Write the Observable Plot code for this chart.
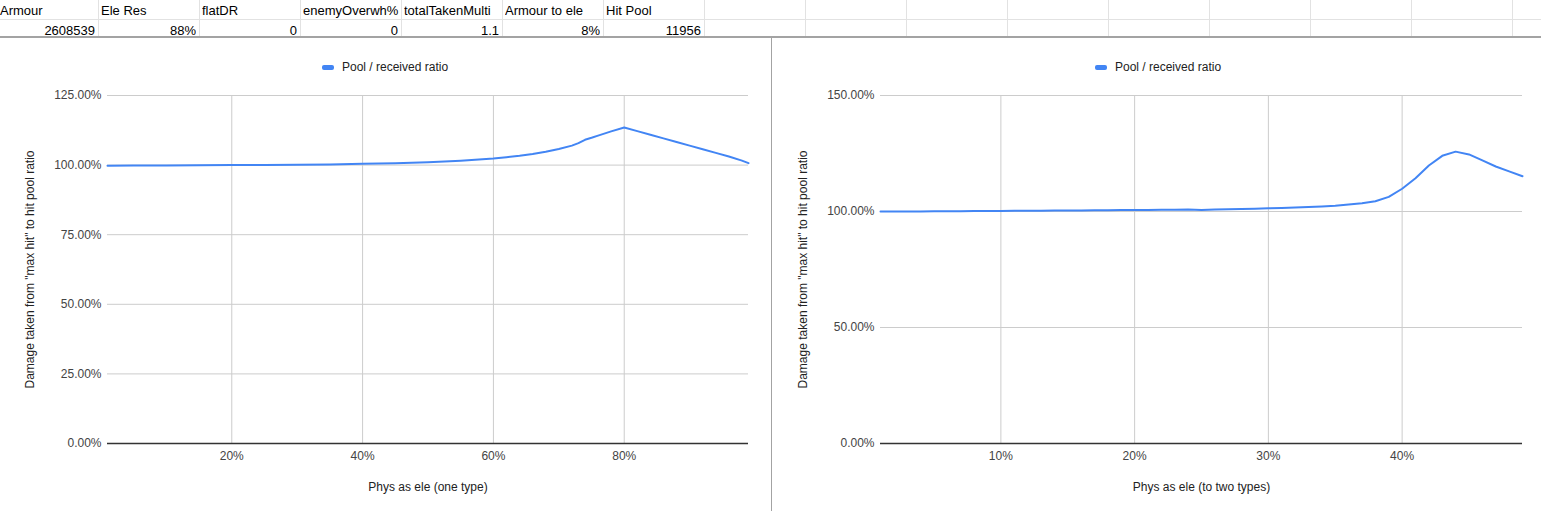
<!DOCTYPE html>
<html>
<head>
<meta charset="utf-8">
<script src="https://cdn.jsdelivr.net/npm/d3@7"></script>
<script src="https://cdn.jsdelivr.net/npm/@observablehq/plot@0.6"></script>
<style>
  html, body { margin: 0; padding: 0; background: #fff; }
  body { width: 1541px; height: 511px; overflow: hidden; position: relative; font-family: "Liberation Sans", Arial, sans-serif; }
  .cell { position: absolute; font-size: 13px; color: #000; white-space: nowrap; overflow: hidden; box-sizing: border-box; }
  .vline { position: absolute; width: 1px; background: #e2e2e2; }
  .hline { position: absolute; height: 1px; background: #e2e2e2; }
  .legend { position: absolute; font-size: 12px; color: #222; display: flex; align-items: center; white-space: nowrap; }
  .legend .sw { width: 12px; height: 5px; border-radius: 2px; background: #4285F4; margin-right: 8px; }
  .chart { position: absolute; top: 37px; }
</style>
</head>
<body>
<script>
// ---- Sheet table ----
const headers = ["Armour", "Ele Res", "flatDR", "enemyOverwh%", "totalTakenMulti", "Armour to ele", "Hit Pool"];
const values = ["2608539", "88%", "0", "0", "1.1", "8%", "11956"];

// ---- Left chart: Phys as ele (one type) ----
const leftPhysAsEle = [1, 5, 10, 15, 20, 25, 30, 35, 40, 45, 50, 55, 60, 62, 64, 66, 68, 70, 72, 73, 74, 75, 76, 78, 80, 82, 84, 86, 88, 90, 92, 94, 96, 98, 99];
const leftRatio = [99.8, 99.85, 99.9, 99.95, 100.0, 100.05, 100.15, 100.25, 100.45, 100.7, 101.05, 101.6, 102.4, 102.85, 103.35, 104.0, 104.8, 105.8, 107.0, 107.9, 109.1, 109.8, 110.6, 112.1, 113.5, 112.2, 110.9, 109.6, 108.3, 107.0, 105.7, 104.4, 103.1, 101.6, 100.7];
const leftXTicks = [20, 40, 60, 80];
const leftYTicks = [0, 25, 50, 75, 100, 125];

// ---- Right chart: Phys as ele (to two types) ----
const rightPhysAsEle = [1, 2, 3, 4, 5, 6, 7, 8, 9, 10, 11, 12, 13, 14, 15, 16, 17, 18, 19, 20, 21, 22, 23, 24, 25, 26, 27, 28, 29, 30, 31, 32, 33, 34, 35, 36, 37, 38, 39, 40, 41, 42, 43, 44, 45, 46, 47, 48, 49];
const rightRatio = [100.0, 100.0, 100.0, 100.05, 100.1, 100.1, 100.15, 100.2, 100.2, 100.25, 100.3, 100.3, 100.35, 100.4, 100.4, 100.45, 100.5, 100.55, 100.6, 100.65, 100.7, 100.75, 100.8, 100.85, 100.7, 100.85, 100.95, 101.05, 101.2, 101.35, 101.5, 101.7, 101.9, 102.2, 102.5, 103.0, 103.6, 104.4, 106.3, 109.8, 114.3, 119.8, 124.0, 125.8, 124.6, 122.0, 119.4, 117.3, 115.2];
const rightXTicks = [10, 20, 30, 40];
const rightYTicks = [0, 50, 100, 150];

const seriesName = "Pool / received ratio";
const yTitle = "Damage taken from \"max hit\" to hit pool ratio";
const leftXTitle = "Phys as ele (one type)";
const rightXTitle = "Phys as ele (to two types)";

// ---- draw sheet grid ----
const body = document.body;
function el(cls, style, text) {
  const d = document.createElement("div");
  d.className = cls;
  Object.assign(d.style, style);
  if (text != null) d.textContent = text;
  body.appendChild(d);
  return d;
}
const colW = 101, firstBoundary = 98;
for (let k = 0; k < 15; k++) {
  el("vline", { left: (firstBoundary + colW * k) + "px", top: "0px", height: "36px" });
}
el("hline", { left: "0px", top: "19px", width: "1541px" });
el("hline", { left: "0px", top: "36px", width: "1541px", height: "2px", background: "#a3a3a3" });
el("vline", { left: "771px", top: "37px", height: "474px", background: "#a3a3a3" });

headers.forEach((h, i) => {
  const left = i === 0 ? -3 : firstBoundary + colW * (i - 1);
  el("cell", { left: (left + 3) + "px", top: "1px", width: (colW - 4) + "px", height: "19px", lineHeight: "19px", textAlign: "left" }, h);
  el("cell", { left: left + "px", top: "22px", width: (colW - 3) + "px", height: "17px", lineHeight: "17px", textAlign: "right" }, values[i]);
});

// legends
function legend(x) {
  const d = el("legend", { left: x + "px", top: "59px", height: "16px" });
  const sw = document.createElement("div"); sw.className = "sw"; d.appendChild(sw);
  const t = document.createElement("span"); t.textContent = seriesName; d.appendChild(t);
}
legend(322);
legend(1095);

function chart(xs, ys, xDomain, xTicks, yDomain, yTicks, xTitle, ml, mr, left) {
  const data = xs.map((x, i) => ({ x, y: ys[i] }));
  const p = Plot.plot({
    width: 770,
    height: 474,
    marginLeft: ml,
    marginRight: mr,
    marginTop: 58,
    marginBottom: 68,
    style: { fontFamily: "'Liberation Sans', Arial, sans-serif", fontSize: "12px", color: "#444", background: "transparent" },
    x: { domain: xDomain },
    y: { domain: yDomain },
    marks: [
      Plot.gridX(xTicks, { stroke: "#cccccc", strokeOpacity: 1 }),
      Plot.gridY(yTicks, { stroke: "#cccccc", strokeOpacity: 1 }),
      Plot.axisX(xTicks, { tickSize: 0, tickPadding: 8, tickFormat: d => d + "%", label: null, fontSize: 12 }),
      Plot.axisY(yTicks, { tickSize: 0, tickPadding: 6, tickFormat: d => d.toFixed(2) + "%", label: null, fontSize: 12 }),
      Plot.ruleY([0], { stroke: "#333333", strokeWidth: 1.5 }),
      Plot.line(data, { x: "x", y: "y", stroke: "#4285F4", strokeWidth: 2 }),
      Plot.text([xTitle], { text: d => d, frameAnchor: "bottom", lineAnchor: "middle", textAnchor: "middle", dy: 44, fill: "#222", fontSize: 12 }),
      Plot.text([yTitle], { text: d => d, frameAnchor: "left", lineAnchor: "middle", textAnchor: "middle", dx: -77, rotate: -90, fill: "#222", fontSize: 12 })
    ]
  });
  p.classList.add("chart");
  p.style.left = left + "px";
  p.style.position = "absolute";
  p.style.top = "37px";
  p.style.overflow = "visible";
  body.appendChild(p);
}

chart(leftPhysAsEle, leftRatio, [1, 99], leftXTicks, [0, 125], leftYTicks, leftXTitle, 107, 22, 0);
chart(rightPhysAsEle, rightRatio, [1, 49], rightXTicks, [0, 150], rightYTicks, rightXTitle, 109, 19, 771);
</script>
</body>
</html>
